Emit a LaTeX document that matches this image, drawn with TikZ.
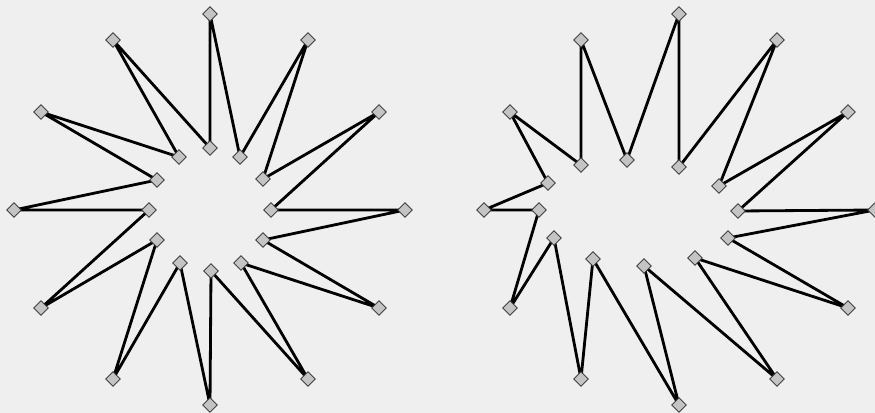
\documentclass[tikz,border=0pt]{standalone}
\usepackage{xcolor}
\usepackage{tikz}
\usetikzlibrary{shapes.geometric,backgrounds}
\definecolor{paper}{HTML}{EFEFEF}
\definecolor{vtxfill}{HTML}{C4C4C4}
\definecolor{vtxline}{HTML}{404040}

\begin{document}
\begin{tikzpicture}[
  x=0.025cm, y=-0.025cm,
  vtx/.style={diamond,draw=vtxline,fill=vtxfill,line width=0.6pt,
              inner sep=0pt,minimum size=0.37cm},
  link/.style={draw=black,line width=2pt,line join=round}
]
\clip (0,0) rectangle (875,413);

% left star: regular, inner points on the same rays as outer ones
\node[vtx] (lo1)  at (210,14)  {};
\node[vtx] (li1)  at (240,157) {};
\node[vtx] (lo2)  at (308,40)  {};
\node[vtx] (li2)  at (263,179) {};
\node[vtx] (lo3)  at (379,112) {};
\node[vtx] (li3)  at (271,210) {};
\node[vtx] (lo4)  at (405,210) {};
\node[vtx] (li4)  at (263,240) {};
\node[vtx] (lo5)  at (379,308) {};
\node[vtx] (li5)  at (241,263) {};
\node[vtx] (lo6)  at (308,379) {};
\node[vtx] (li6)  at (211,271) {};
\node[vtx] (lo7)  at (210,405) {};
\node[vtx] (li7)  at (180,263) {};
\node[vtx] (lo8)  at (113,379) {};
\node[vtx] (li8)  at (157,240) {};
\node[vtx] (lo9)  at (41,308)  {};
\node[vtx] (li9)  at (149,210) {};
\node[vtx] (lo10) at (14,210)  {};
\node[vtx] (li10) at (157,180) {};
\node[vtx] (lo11) at (41,112)  {};
\node[vtx] (li11) at (179,157) {};
\node[vtx] (lo12) at (113,40)  {};
\node[vtx] (li12) at (210,148) {};

% right star: same outer points, inner points moved
\node[vtx] (ro1)  at (679,14)  {};
\node[vtx] (ri1)  at (679,167) {};
\node[vtx] (ro2)  at (777,40)  {};
\node[vtx] (ri2)  at (719,186) {};
\node[vtx] (ro3)  at (848,112) {};
\node[vtx] (ri3)  at (738,211) {};
\node[vtx] (ro4)  at (875,210) {};
\node[vtx] (ri4)  at (728,238) {};
\node[vtx] (ro5)  at (848,308) {};
\node[vtx] (ri5)  at (695,258) {};
\node[vtx] (ro6)  at (777,379) {};
\node[vtx] (ri6)  at (644,266) {};
\node[vtx] (ro7)  at (679,405) {};
\node[vtx] (ri7)  at (593,259) {};
\node[vtx] (ro8)  at (581,379) {};
\node[vtx] (ri8)  at (554,238) {};
\node[vtx] (ro9)  at (510,308) {};
\node[vtx] (ri9)  at (539,210) {};
\node[vtx] (ro10) at (484,210) {};
\node[vtx] (ri10) at (548,183) {};
\node[vtx] (ro11) at (510,112) {};
\node[vtx] (ri11) at (581,165) {};
\node[vtx] (ro12) at (581,40)  {};
\node[vtx] (ri12) at (627,160) {};

\begin{pgfonlayer}{background}
\fill[paper] (0,0) rectangle (875,413);
\draw[link] (lo1.center) -- (li1.center) -- (lo2.center) -- (li2.center)
  -- (lo3.center) -- (li3.center) -- (lo4.center) -- (li4.center)
  -- (lo5.center) -- (li5.center) -- (lo6.center) -- (li6.center)
  -- (lo7.center) -- (li7.center) -- (lo8.center) -- (li8.center)
  -- (lo9.center) -- (li9.center) -- (lo10.center) -- (li10.center)
  -- (lo11.center) -- (li11.center) -- (lo12.center) -- (li12.center) -- cycle;
\draw[link] (ro1.center) -- (ri1.center) -- (ro2.center) -- (ri2.center)
  -- (ro3.center) -- (ri3.center) -- (ro4.center) -- (ri4.center)
  -- (ro5.center) -- (ri5.center) -- (ro6.center) -- (ri6.center)
  -- (ro7.center) -- (ri7.center) -- (ro8.center) -- (ri8.center)
  -- (ro9.center) -- (ri9.center) -- (ro10.center) -- (ri10.center)
  -- (ro11.center) -- (ri11.center) -- (ro12.center) -- (ri12.center) -- cycle;
\end{pgfonlayer}
\end{tikzpicture}
\end{document}
